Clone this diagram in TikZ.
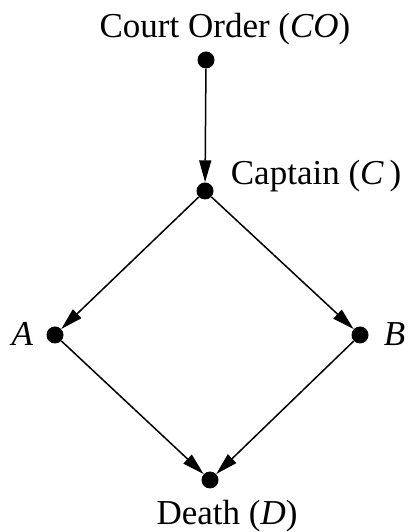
\documentclass[tikz,border=0pt]{standalone}
\usepackage{fontspec}
\setmainfont{Liberation Serif}
\usetikzlibrary{arrows.meta,positioning}

\begin{document}
\begin{tikzpicture}[
    x=1pt, y=1pt,
    dot/.style={circle, fill=black, inner sep=0pt, minimum size=17pt},
    lbl/.style={font=\fontsize{35}{42}\selectfont, inner sep=0pt},
    arrow/.style={-{Triangle[length=22pt, width=12pt]}, line width=1.5pt}
]
\useasboundingbox (0,0) rectangle (414,532);
\node[dot] (co) at (206,472) {};
\node[dot] (cap) at (205,341) {};
\node[dot] (a) at (55,197) {};
\node[dot] (b) at (360,197) {};
\node[dot] (d) at (210,52) {};
\node[lbl, above=14pt of co, anchor=base, xshift=19pt] (colbl) {Court Order (\textit{CO})};
\node[lbl, right=17pt of cap, anchor=base west, yshift=6pt] (caplbl) {Captain (\textit{C}\,)};
\node[lbl, left=13pt of a, anchor=base east, yshift=-11pt] (albl) {\textit{A}};
\node[lbl, right=15pt of b, anchor=base west, yshift=-11pt] (blbl) {\textit{B}};
\node[lbl, below=36pt of d, anchor=base, xshift=17pt] (dlbl) {Death (\textit{D})};
\draw[arrow] (co) -- (cap);
\draw[arrow] (cap) -- (a);
\draw[arrow] (cap) -- (b);
\draw[arrow] (a) -- (d);
\draw[arrow] (b) -- (d);
\end{tikzpicture}
\end{document}
